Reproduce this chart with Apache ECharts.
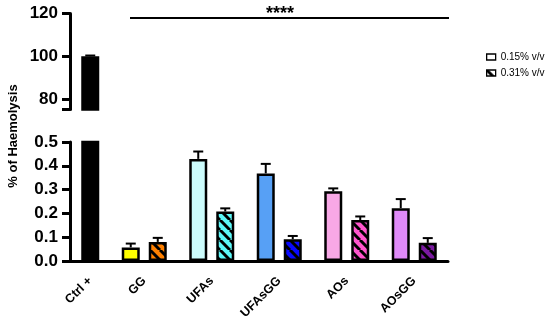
<!DOCTYPE html>
<html><head><meta charset="utf-8">
<script src="https://cdn.jsdelivr.net/npm/echarts@6/dist/echarts.min.js"></script>
<style>html,body{margin:0;padding:0;background:#fff}#c{width:550px;height:322px}</style>
</head><body><div id="c"></div>
<script>
// ---- data ----
const groups = ['GG', 'UFAs', 'UFAsGG', 'AOs', 'AOsGG'];
const ctrlLabel = 'Ctrl +';
const ctrlValue = 100;
const ctrlError = 0.3;
const low = [0.057, 0.429, 0.368, 0.293, 0.222];      // 0.15% v/v
const lowErr = [0.016, 0.031, 0.040, 0.012, 0.038];
const high = [0.080, 0.208, 0.091, 0.172, 0.076];     // 0.31% v/v
const highErr = [0.017, 0.013, 0.014, 0.015, 0.020];
const seriesNames = ['0.15% v/v', '0.31% v/v'];
const topTickLabels = [80, 100, 120];
const bottomTickLabels = [0, 0.1, 0.2, 0.3, 0.4, 0.5];
const sigText = '****';
const yTitle = '% of Haemolysis';

// ---- styles ----
const lowColors = ['#ffff00', '#ccfcfc', '#57a0f5', '#f8a8e6', '#df8af8'];
const highColors = ['#ff8000', '#5cf8f8', '#0a0aff', '#ff55cc', '#7a1aa0'];
const FONT = 'Liberation Sans, Arial, Helvetica, sans-serif';

function hatch(bg) {
  const c = document.createElement('canvas');
  c.width = c.height = 10;
  const ctx = c.getContext('2d');
  ctx.fillStyle = bg; ctx.fillRect(0, 0, 10, 10);
  ctx.strokeStyle = '#000'; ctx.lineWidth = 3; ctx.beginPath();
  for (const o of [-10, 0, 10]) { ctx.moveTo(o, 0); ctx.lineTo(o + 10, 10); }
  ctx.stroke();
  return { image: c, repeat: 'repeat' };
}

// ---- slot layout (category axis with spacer slots) ----
const NSLOTS = 28;
const ctrlSlot = 1;
const centerSlot = i => 5 + 5 * i;
const slots = Array.from({ length: NSLOTS }, (_, i) => 's' + i);
const labelAt = {}; labelAt[ctrlSlot] = ctrlLabel;
groups.forEach((g, i) => { labelAt[centerSlot(i)] = g; });
const tickSlots = new Set([ctrlSlot]);
groups.forEach((g, i) => { tickSlots.add(centerSlot(i) - 1); tickSlots.add(centerSlot(i) + 1); });

const empty = () => Array(NSLOTS).fill(null);
const ctrlData = empty(); ctrlData[ctrlSlot] = { value: ctrlValue, itemStyle: { color: '#000' } };
const lowData = empty(); const highData = empty();
groups.forEach((g, i) => {
  lowData[centerSlot(i) - 1] = { value: low[i], itemStyle: { color: lowColors[i] } };
  highData[centerSlot(i) + 1] = { value: high[i], itemStyle: { color: hatch(highColors[i]) } };
});
const errBottom = [];
groups.forEach((g, i) => {
  errBottom.push([centerSlot(i) - 1, low[i], lowErr[i]]);
  errBottom.push([centerSlot(i) + 1, high[i], highErr[i]]);
});
const errTop = [[ctrlSlot, ctrlValue, ctrlError]];

function errRender(params, api) {
  const b = api.coord([api.value(0), api.value(1)]);
  const t = api.coord([api.value(0), api.value(1) + api.value(2)]);
  const st = { stroke: '#000', lineWidth: 2 };
  return { type: 'group', children: [
    { type: 'line', shape: { x1: b[0], y1: b[1], x2: b[0], y2: t[1] }, style: st },
    { type: 'line', shape: { x1: b[0] - 5, y1: t[1], x2: b[0] + 5, y2: t[1] }, style: st }
  ]};
}

const barCommon = { type: 'bar', barWidth: 18, barGap: '-100%', clip: true,
  itemStyle: { borderColor: '#000', borderWidth: 2.5 }, emphasis: { disabled: true } };

const axisLineStyle = { color: '#000', width: 3 };
const yLabel = { color: '#000', fontFamily: FONT, fontWeight: 'bold', fontSize: 17, margin: 12 };

const chart = echarts.init(document.getElementById('c'), null, { renderer: 'canvas' });
chart.setOption({
  animation: false,
  backgroundColor: '#fff',
  grid: [
    { left: 70, width: 378, top: 13.5, height: 96 },
    { left: 70, width: 378, top: 142, height: 120 }
  ],
  xAxis: [
    { type: 'category', gridIndex: 0, data: slots, show: false },
    { type: 'category', gridIndex: 1, data: slots,
      axisLine: { lineStyle: axisLineStyle },
      axisTick: { alignWithLabel: true, length: 8, lineStyle: { color: '#000', width: 3 },
                  interval: i => tickSlots.has(i) },
      axisLabel: { interval: i => labelAt[i] !== undefined, formatter: (v, i) => labelAt[i] || '',
                   rotate: 45, margin: 18, color: '#000', fontFamily: FONT, fontWeight: 'bold', fontSize: 12.5 } }
  ],
  yAxis: [
    { type: 'value', gridIndex: 0, min: 75, max: 120,
      axisLine: { show: true, lineStyle: axisLineStyle },
      axisTick: { show: true, length: 8, lineStyle: { color: '#000', width: 3 }, customValues: [75].concat(topTickLabels) },
      axisLabel: Object.assign({ customValues: topTickLabels }, yLabel),
      splitLine: { show: false } },
    { type: 'value', gridIndex: 1, min: 0, max: 0.5, interval: 0.1,
      axisLine: { show: true, lineStyle: axisLineStyle },
      axisTick: { show: true, length: 8, lineStyle: { color: '#000', width: 3 } },
      axisLabel: Object.assign({ formatter: v => v.toFixed(1) }, yLabel),
      splitLine: { show: false } }
  ],
  legend: {
    orient: 'vertical', left: 486, top: 51, padding: 0, itemGap: 4,
    itemWidth: 9, itemHeight: 6, icon: 'rect',
    textStyle: { fontFamily: FONT, fontSize: 10, color: '#000', lineHeight: 12 },
    data: [
      { name: seriesNames[0], itemStyle: { color: '#fff', borderColor: '#000', borderWidth: 1.3 } },
      { name: seriesNames[1], itemStyle: { color: hatch('#fff'), borderColor: '#000', borderWidth: 1.3 } }
    ]
  },
  series: [
    Object.assign({}, barCommon, { name: 'ctrlTop', xAxisIndex: 0, yAxisIndex: 0, data: ctrlData }),
    Object.assign({}, barCommon, { name: 'ctrlBottom', xAxisIndex: 1, yAxisIndex: 1, data: ctrlData }),
    Object.assign({}, barCommon, { name: seriesNames[0], xAxisIndex: 1, yAxisIndex: 1, data: lowData }),
    Object.assign({}, barCommon, { name: seriesNames[1], xAxisIndex: 1, yAxisIndex: 1, data: highData }),
    { type: 'custom', xAxisIndex: 1, yAxisIndex: 1, data: errBottom, renderItem: errRender, z: 5, silent: true },
    { type: 'custom', xAxisIndex: 0, yAxisIndex: 0, data: errTop, renderItem: errRender, z: 5, silent: true }
  ],
  graphic: [
    { type: 'text', x: 13, y: 136, rotation: Math.PI / 2,
      style: { text: yTitle, font: 'bold 13px ' + FONT, fill: '#000', align: 'center', verticalAlign: 'middle' } },
    { type: 'line', shape: { x1: 130, y1: 18, x2: 449, y2: 18 }, style: { stroke: '#000', lineWidth: 2 } },
    { type: 'text', x: 280, y: 23, style: { text: sigText, font: 'bold 18px ' + FONT, fill: '#000', align: 'center', verticalAlign: 'bottom' } }
  ]
});
</script></body></html>
